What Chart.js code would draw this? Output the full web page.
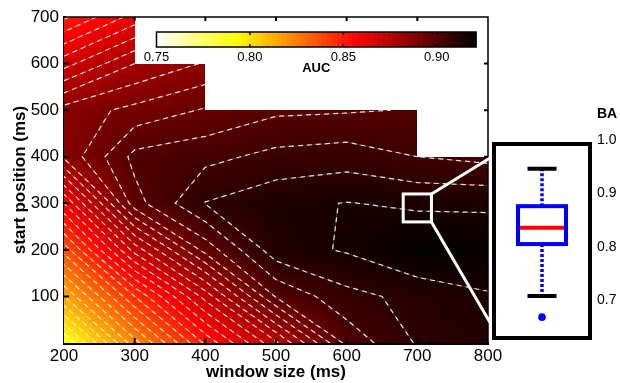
<!DOCTYPE html>
<html><head><meta charset="utf-8">
<script src="https://cdn.jsdelivr.net/npm/chart.js@4.4.1/dist/chart.umd.min.js"></script>
<style>
html,body{margin:0;padding:0;background:#fff;}
#wrap{position:relative;width:620px;height:383px;overflow:hidden;background:#fff;}
canvas{position:absolute;}
</style></head><body>
<div id="wrap">
<canvas id="main" width="620" height="383" style="left:0;top:0"></canvas>
<canvas id="cbar" width="360" height="60" style="left:140px;top:20px"></canvas>
<canvas id="inset" width="130" height="258" style="left:490px;top:100px"></canvas>
</div>
<script>
const FONT = "'Liberation Sans', Arial, Helvetica, sans-serif";

// ---- data ----
const windowSizes = [200, 300, 400, 500, 600, 700, 800];
const startPositions = [0, 100, 200, 300, 400, 500, 600, 700];
// AUC per start position (rows) and window size (columns); null = not computed
const auc = [
  [0.790, 0.823, 0.851, 0.874, 0.9015, 0.9105, 0.912],
  [0.815, 0.845, 0.872, 0.9005, 0.9085, 0.9115, 0.9145],
  [0.837, 0.872, 0.897, 0.913, 0.9155, 0.920, 0.919],
  [0.860, 0.898, 0.9102, 0.9135, 0.9152, 0.914, 0.914],
  [0.886, 0.9015, 0.9035, 0.9065, 0.9075, 0.905, 0.9035],
  [0.887, 0.8915, 0.8955, 0.899, 0.8995, 0.9003, null],
  [0.868, 0.880, 0.8855, null, null, null, null],
  [0.849, 0.862, null, null, null, null, null]
];
const contourLevels = [0.795,0.800,0.805,0.810,0.815,0.820,0.825,0.830,0.835,0.840,0.845,0.850,0.855,0.860,0.865,0.870,0.875,0.880,0.885,0.890,0.895,0.900,0.905,0.910,0.915];
const xTicks = [200, 300, 400, 500, 600, 700, 800];
const yTicks = [100, 200, 300, 400, 500, 600, 700];
const aucRange = [0.75, 0.921];
const cbarTicks = [0.75, 0.80, 0.85, 0.90];
const zoomWindow = [680, 720];
const zoomStart = [260, 320];
// BA box plot: lower whisker, Q1, median, Q3, upper whisker
const baBox = [0.7075, 0.805, 0.8355, 0.876, 0.946];
const baOutliers = [0.668];
const baTicks = [0.7, 0.8, 0.9, 1.0];
const baRange = [0.62897, 0.99252];

// ---- colormap (flipped "hot") ----
function heat(v){
  let t = (v - aucRange[0]) / (aucRange[1] - aucRange[0]);
  t = Math.min(1, Math.max(0, t));
  const h = 1 - t;
  const r = Math.min(1, h / 0.375);
  const g = Math.min(1, Math.max(0, (h - 0.375) / 0.375));
  const b = Math.min(1, Math.max(0, (h - 0.75) / 0.25));
  return [Math.round(r*255), Math.round(g*255), Math.round(b*255)];
}

function locate(arr, v){
  for (let i = 0; i < arr.length - 1; i++) if (v <= arr[i+1]) return i;
  return arr.length - 2;
}
function sample(w, s){
  const i = locate(windowSizes, w), j = locate(startPositions, s);
  const a = auc[j][i], b = auc[j][i+1], c = auc[j+1][i+1], d = auc[j+1][i];
  if (a == null || b == null || c == null || d == null) return null;
  let tx = (w - windowSizes[i]) / (windowSizes[i+1] - windowSizes[i]);
  let ty = (s - startPositions[j]) / (startPositions[j+1] - startPositions[j]);
  tx = Math.min(1, Math.max(0, tx)); ty = Math.min(1, Math.max(0, ty));
  return a*(1-tx)*(1-ty) + b*tx*(1-ty) + c*tx*ty + d*(1-tx)*ty;
}

function contourLines(level){
  const nx = windowSizes.length, ny = startPositions.length;
  const pts = {}; const segs = [];
  const val = (i, j) => auc[j][i];
  function ep(key, i1, j1, i2, j2){
    if (!(key in pts)){
      const v1 = val(i1, j1), v2 = val(i2, j2);
      const t = (level - v1) / (v2 - v1);
      pts[key] = [windowSizes[i1] + t*(windowSizes[i2]-windowSizes[i1]),
                  startPositions[j1] + t*(startPositions[j2]-startPositions[j1])];
    }
    return key;
  }
  for (let j = 0; j < ny-1; j++) for (let i = 0; i < nx-1; i++){
    const a = val(i,j), b = val(i+1,j), c = val(i+1,j+1), d = val(i,j+1);
    if (a == null || b == null || c == null || d == null) continue;
    const A = a >= level, B = b >= level, C = c >= level, D = d >= level;
    const e = [];
    if (A !== B) e.push(ep('h'+i+'_'+j, i, j, i+1, j));
    if (B !== C) e.push(ep('v'+(i+1)+'_'+j, i+1, j, i+1, j+1));
    if (C !== D) e.push(ep('h'+i+'_'+(j+1), i, j+1, i+1, j+1));
    if (D !== A) e.push(ep('v'+i+'_'+j, i, j, i, j+1));
    if (e.length === 2) segs.push([e[0], e[1]]);
    else if (e.length === 4){
      const cen = (a+b+c+d)/4;
      if ((cen >= level) === A){ segs.push([e[0], e[1]]); segs.push([e[2], e[3]]); }
      else { segs.push([e[0], e[3]]); segs.push([e[1], e[2]]); }
    }
  }
  const adj = {};
  segs.forEach((s, k) => { for (const e of s) (adj[e] = adj[e] || []).push(k); });
  const used = new Array(segs.length).fill(false);
  const lines = [];
  for (let k = 0; k < segs.length; k++){
    if (used[k]) continue;
    used[k] = true;
    const line = [segs[k][0], segs[k][1]];
    let cur = line[line.length-1];
    while (true){
      const n = (adj[cur] || []).find(m => !used[m]);
      if (n === undefined) break;
      used[n] = true; const s = segs[n]; const o = s[0] === cur ? s[1] : s[0];
      line.push(o); cur = o;
    }
    cur = line[0];
    while (true){
      const n = (adj[cur] || []).find(m => !used[m]);
      if (n === undefined) break;
      used[n] = true; const s = segs[n]; const o = s[0] === cur ? s[1] : s[0];
      line.unshift(o); cur = o;
    }
    lines.push(line.map(key => pts[key]));
  }
  return lines;
}

const heatPlugin = {
  id: 'heat',
  beforeDatasetsDraw(chart){
    const {ctx, chartArea: ca, scales: {x: xs, y: ys}} = chart;
    const L = Math.round(ca.left), T = Math.round(ca.top);
    const W = Math.round(ca.right) - L, H = Math.round(ca.bottom) - T;
    const img = ctx.createImageData(W, H);
    for (let py = 0; py < H; py++){
      const sv = ys.getValueForPixel(T + py + 0.5);
      for (let px = 0; px < W; px++){
        const wv = xs.getValueForPixel(L + px + 0.5);
        const v = sample(wv, sv);
        if (v == null) continue;
        const c = heat(v); const o = (py*W + px)*4;
        img.data[o] = c[0]; img.data[o+1] = c[1]; img.data[o+2] = c[2]; img.data[o+3] = 255;
      }
    }
    ctx.putImageData(img, L, T);
    ctx.save();
    ctx.beginPath(); ctx.rect(ca.left, ca.top, ca.right-ca.left, ca.bottom-ca.top); ctx.clip();
    for (const lev of contourLevels){
      for (const line of contourLines(lev)){
        ctx.beginPath();
        line.forEach((p, k) => {
          const X = xs.getPixelForValue(p[0]), Y = ys.getPixelForValue(p[1]);
          if (k === 0) ctx.moveTo(X, Y); else ctx.lineTo(X, Y);
        });
        ctx.setLineDash([]); ctx.lineWidth = 1; ctx.strokeStyle = 'rgba(255,225,225,0.18)'; ctx.stroke();
        ctx.setLineDash([5, 4]); ctx.lineWidth = 1.2; ctx.strokeStyle = 'rgba(255,245,245,0.9)'; ctx.stroke();
      }
    }
    ctx.restore();
  },
  afterDraw(chart){
    const {ctx, chartArea: ca, scales: {x: xs, y: ys}} = chart;
    ctx.save();
    ctx.strokeStyle = '#000'; ctx.lineWidth = 1.5; ctx.setLineDash([]);
    ctx.beginPath();
    ctx.moveTo(ca.left, ca.top); ctx.lineTo(ca.right, ca.top); ctx.lineTo(ca.right, ca.bottom);
    ctx.stroke();
    ctx.lineWidth = 2;
    ctx.beginPath();
    for (const v of xTicks){
      if (v === xTicks[0] || v === xTicks[xTicks.length-1]) continue;
      const X = xs.getPixelForValue(v);
      ctx.moveTo(X, ca.bottom); ctx.lineTo(X, ca.bottom - 5);
      ctx.moveTo(X, ca.top); ctx.lineTo(X, ca.top + 4);
    }
    for (const v of yTicks){
      if (v === yTicks[yTicks.length-1]) continue;
      const Y = ys.getPixelForValue(v);
      ctx.moveTo(ca.left, Y); ctx.lineTo(ca.left + 5, Y);
      ctx.moveTo(ca.right, Y); ctx.lineTo(ca.right - 4, Y);
    }
    ctx.stroke();
    // zoom square and connectors
    const x0 = xs.getPixelForValue(zoomWindow[0]), x1 = xs.getPixelForValue(zoomWindow[1]);
    const y0 = ys.getPixelForValue(zoomStart[1]), y1 = ys.getPixelForValue(zoomStart[0]);
    ctx.strokeStyle = '#fff'; ctx.lineWidth = 3;
    ctx.strokeRect(x0, y0, x1 - x0, y1 - y0);
    ctx.beginPath();
    ctx.moveTo(x1, y0); ctx.lineTo(495, 155);
    ctx.moveTo(x1, y1); ctx.lineTo(495, 331);
    ctx.stroke();
    ctx.restore();
  }
};

new Chart(document.getElementById('main'), {
  type: 'scatter',
  data: { datasets: [] },
  options: {
    responsive: false, animation: false, events: [],
    layout: { padding: { top: 17, right: 132, left: 0, bottom: 0 } },
    plugins: { legend: { display: false }, tooltip: { enabled: false } },
    scales: {
      x: {
        type: 'linear', min: 200, max: 800, z: 1,
        afterBuildTicks: s => { s.ticks = xTicks.map(v => ({ value: v })); },
        afterFit: s => { s.height = 40; },
        grid: { display: false, drawTicks: false },
        border: { display: true, width: 3, color: '#000' },
        ticks: { color: '#000', font: { family: FONT, size: 17 }, padding: 3, maxRotation: 0, autoSkip: false },
        title: { display: true, text: 'window size (ms)', color: '#000',
                 font: { family: FONT, size: 17, weight: 'bold' }, padding: { top: 0, bottom: 0 } }
      },
      y: {
        type: 'linear', min: 0, max: 700, z: 1,
        afterBuildTicks: s => { s.ticks = yTicks.map(v => ({ value: v })); },
        afterFit: s => { s.width = 64; },
        grid: { display: false, drawTicks: false },
        border: { display: true, width: 3, color: '#000' },
        ticks: { color: '#000', font: { family: FONT, size: 17 }, padding: 5, autoSkip: false },
        title: { display: true, text: 'start position (ms)', color: '#000',
                 font: { family: FONT, size: 17, weight: 'bold' }, padding: { top: 10, bottom: 0 } }
      }
    }
  },
  plugins: [heatPlugin]
});

const cbarPlugin = {
  id: 'cbar',
  beforeDatasetsDraw(chart){
    const {ctx, chartArea: ca, scales: {x: xs}} = chart;
    const n = 64;
    for (let k = 0; k < n; k++){
      const v0 = aucRange[0] + k*(aucRange[1]-aucRange[0])/n;
      const v1 = aucRange[0] + (k+1)*(aucRange[1]-aucRange[0])/n;
      const c = heat((v0+v1)/2);
      ctx.fillStyle = 'rgb('+c[0]+','+c[1]+','+c[2]+')';
      const X0 = xs.getPixelForValue(v0), X1 = xs.getPixelForValue(v1);
      ctx.fillRect(X0, ca.top, X1 - X0 + 0.6, ca.bottom - ca.top);
    }
    ctx.save();
    ctx.strokeStyle = '#000'; ctx.lineWidth = 1.5;
    ctx.strokeRect(ca.left, ca.top, ca.right - ca.left, ca.bottom - ca.top);
    ctx.beginPath();
    for (const v of cbarTicks){
      if (v === cbarTicks[0]) continue;
      const X = xs.getPixelForValue(v);
      ctx.moveTo(X, ca.top); ctx.lineTo(X, ca.top + 3);
      ctx.moveTo(X, ca.bottom); ctx.lineTo(X, ca.bottom - 3);
    }
    ctx.stroke();
    ctx.restore();
  }
};

new Chart(document.getElementById('cbar'), {
  type: 'scatter',
  data: { datasets: [] },
  options: {
    responsive: false, animation: false, events: [],
    layout: { padding: { left: 16.5, right: 24, top: 12, bottom: 0 } },
    plugins: { legend: { display: false }, tooltip: { enabled: false } },
    scales: {
      x: {
        type: 'linear', min: aucRange[0], max: aucRange[1], position: 'bottom',
        afterBuildTicks: s => { s.ticks = cbarTicks.map(v => ({ value: v })); },
        afterFit: s => { s.height = 33; },
        grid: { display: false, drawTicks: false }, border: { display: false },
        ticks: { color: '#000', font: { family: FONT, size: 13 }, padding: 3, maxRotation: 0, autoSkip: false,
                 callback: v => Number(v).toFixed(2) },
        title: { display: true, text: 'AUC', color: '#000',
                 font: { family: FONT, size: 13, weight: 'bold' }, padding: { top: 0, bottom: 4 } }
      },
      y: { display: false, min: 0, max: 1 }
    }
  },
  plugins: [cbarPlugin]
});

const insetPlugin = {
  id: 'inset',
  afterDraw(chart){
    const {ctx, chartArea: ca, scales: {x: xs, y: ys}} = chart;
    const cx = xs.getPixelForValue(0);
    const yv = v => ys.getPixelForValue(v);
    ctx.save();
    // whiskers
    ctx.strokeStyle = '#0000ff'; ctx.lineWidth = 3.5; ctx.setLineDash([3, 2]);
    ctx.beginPath();
    ctx.moveTo(cx, yv(baBox[3])); ctx.lineTo(cx, yv(baBox[4]));
    ctx.moveTo(cx, yv(baBox[1])); ctx.lineTo(cx, yv(baBox[0]));
    ctx.stroke();
    ctx.setLineDash([]);
    // caps
    ctx.strokeStyle = '#000'; ctx.lineWidth = 4;
    ctx.beginPath();
    ctx.moveTo(cx - 14.5, yv(baBox[4])); ctx.lineTo(cx + 14.5, yv(baBox[4]));
    ctx.moveTo(cx - 14.5, yv(baBox[0])); ctx.lineTo(cx + 14.5, yv(baBox[0]));
    ctx.stroke();
    // box
    const top = yv(baBox[3]), bot = yv(baBox[1]);
    ctx.fillStyle = '#fff';
    ctx.fillRect(cx - 24, top, 48, bot - top);
    ctx.strokeStyle = '#0000ff'; ctx.lineWidth = 4;
    ctx.strokeRect(cx - 24, top, 48, bot - top);
    // median
    ctx.strokeStyle = '#ff0000'; ctx.lineWidth = 4;
    ctx.beginPath(); ctx.moveTo(cx - 22, yv(baBox[2])); ctx.lineTo(cx + 22, yv(baBox[2])); ctx.stroke();
    // outliers
    ctx.fillStyle = '#0000ff';
    for (const o of baOutliers){ ctx.beginPath(); ctx.arc(cx, yv(o), 3.8, 0, Math.PI*2); ctx.fill(); }
    // frame
    ctx.strokeStyle = '#000'; ctx.lineWidth = 4;
    ctx.strokeRect(ca.left, ca.top, ca.right - ca.left, ca.bottom - ca.top);
    // axis name
    ctx.fillStyle = '#000'; ctx.font = 'bold 14px ' + FONT;
    ctx.textAlign = 'left'; ctx.textBaseline = 'middle';
    ctx.fillText('BA', ys.left + 7, 14);
    ctx.restore();
  }
};

new Chart(document.getElementById('inset'), {
  type: 'scatter',
  data: { datasets: [] },
  options: {
    responsive: false, animation: false, events: [],
    layout: { padding: { left: 4, right: 0, top: 44, bottom: 20 } },
    plugins: { legend: { display: false }, tooltip: { enabled: false } },
    scales: {
      x: { type: 'linear', min: -1, max: 1, display: false },
      y: {
        type: 'linear', position: 'right', min: baRange[0], max: baRange[1],
        afterBuildTicks: s => { s.ticks = baTicks.map(v => ({ value: v })); },
        afterFit: s => { s.width = 30; },
        grid: { display: false, drawTicks: false }, border: { display: false },
        ticks: { color: '#000', font: { family: FONT, size: 14 }, padding: 7, autoSkip: false,
                 callback: v => Number(v).toFixed(1) }
      }
    }
  },
  plugins: [insetPlugin]
});
</script>
</body></html>
